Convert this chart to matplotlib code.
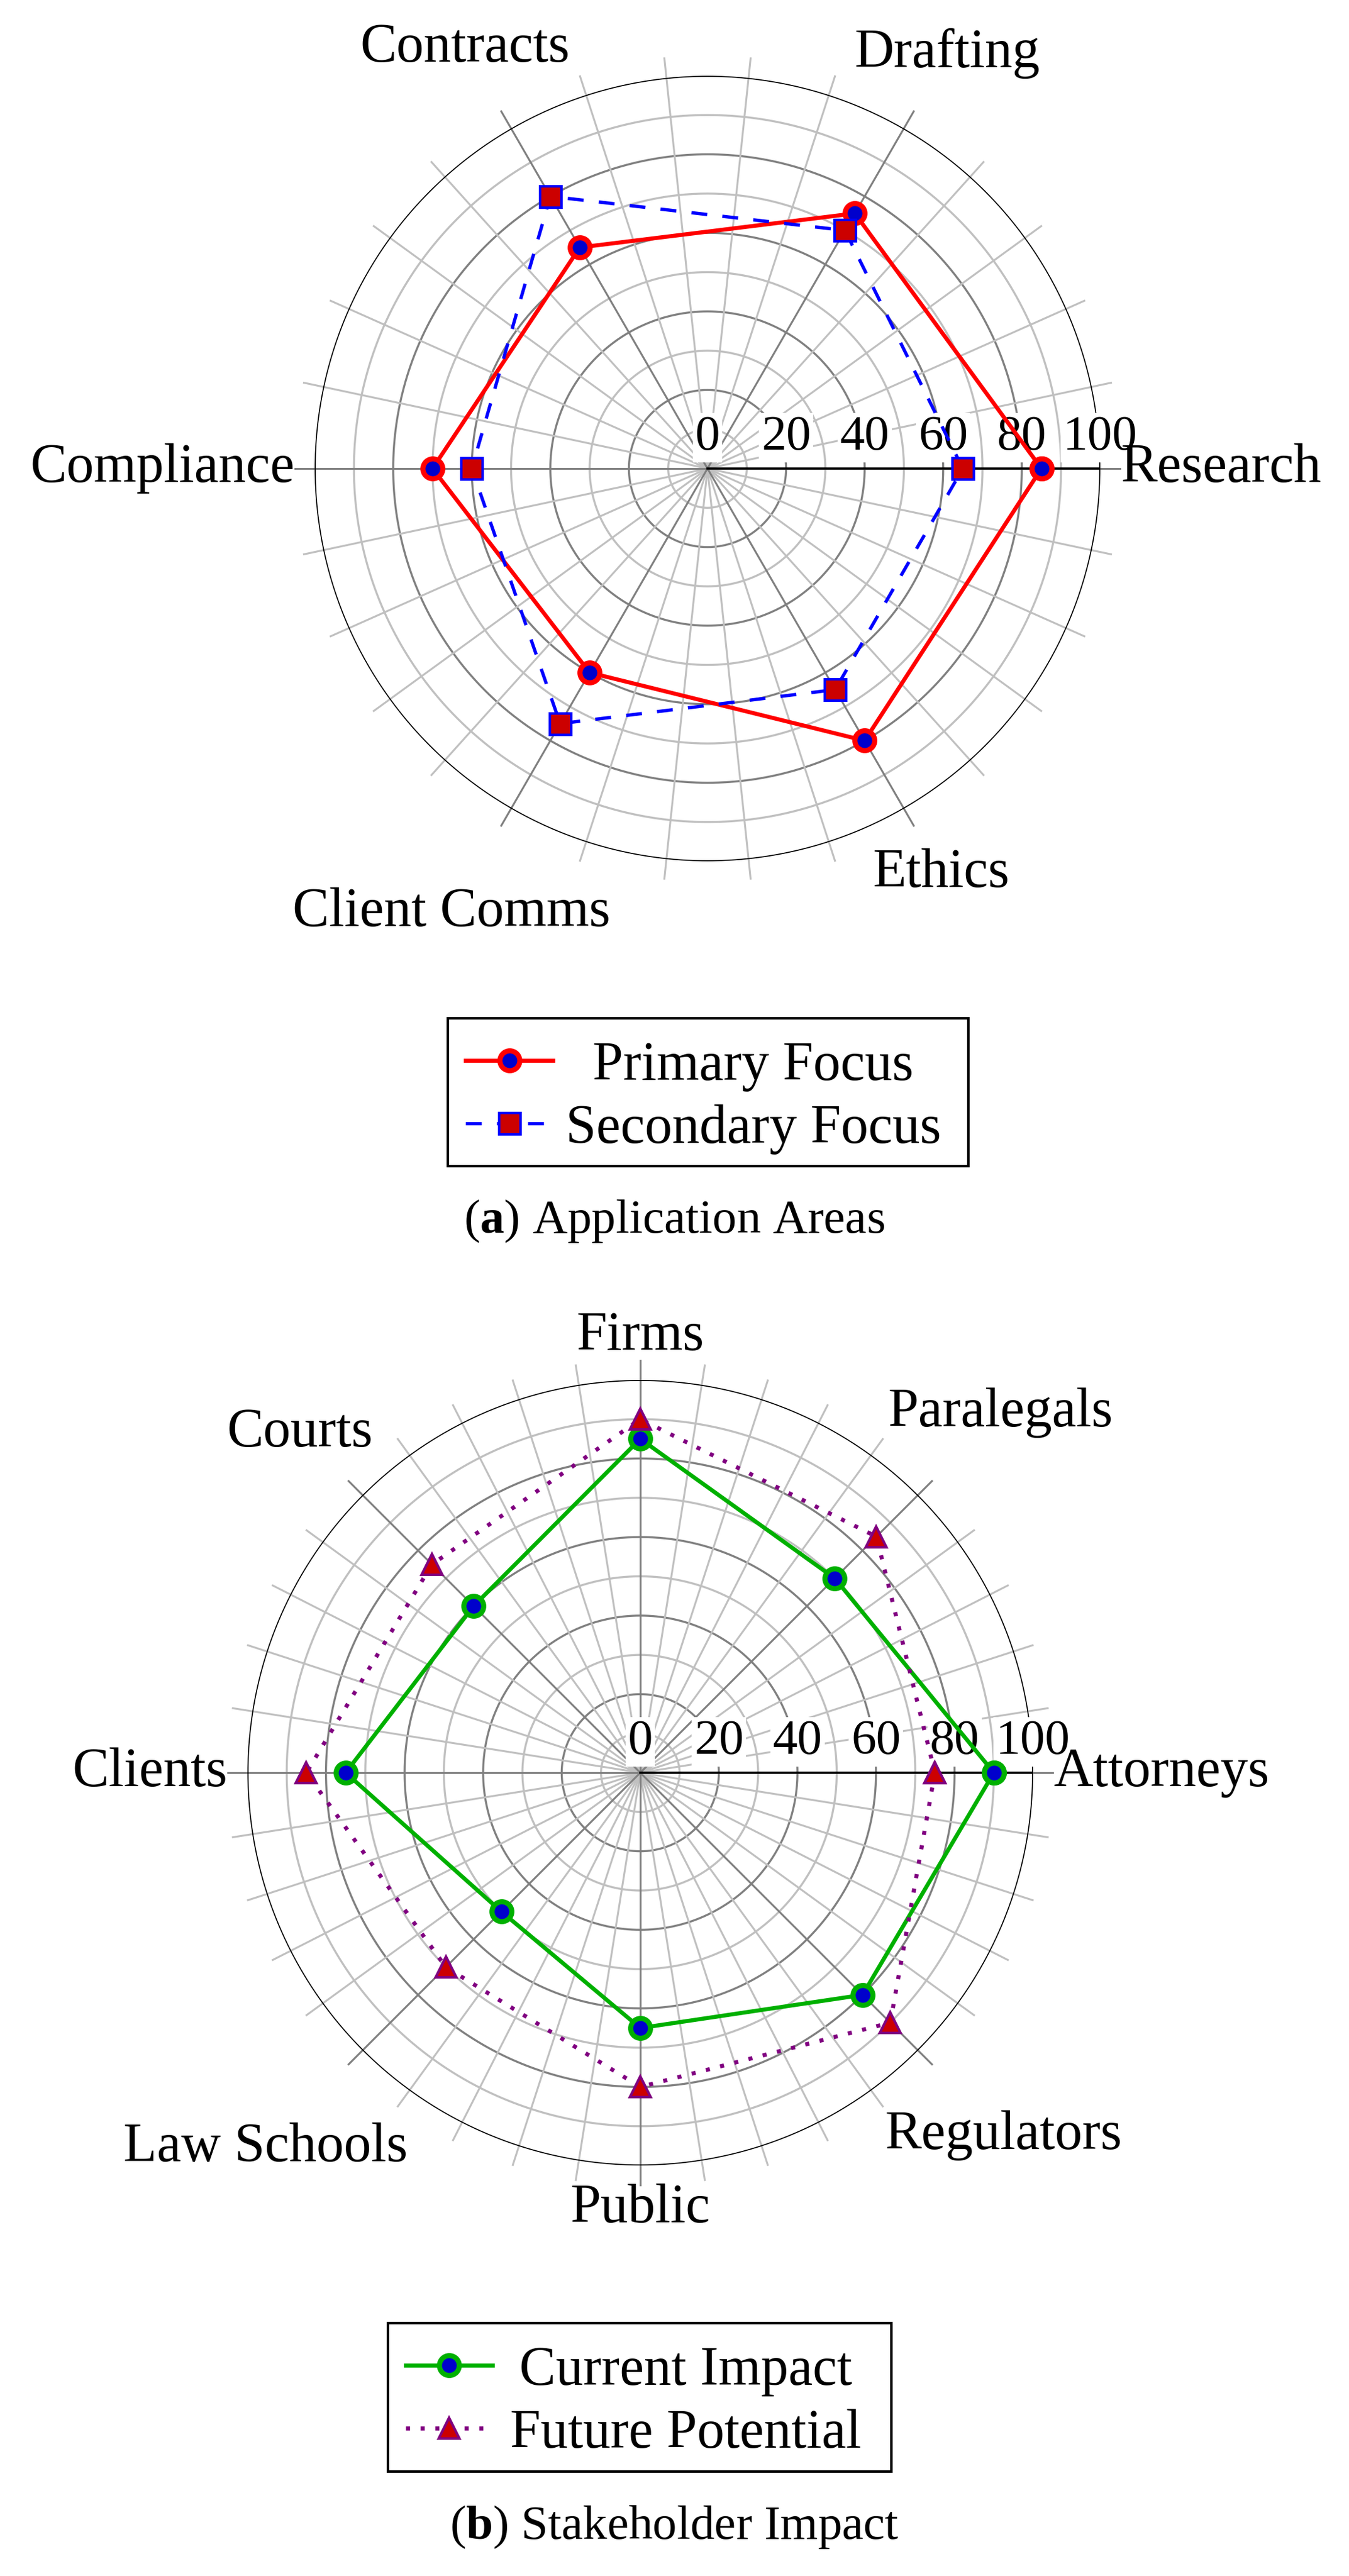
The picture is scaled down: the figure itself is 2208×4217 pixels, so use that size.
import numpy as np
import matplotlib
matplotlib.use("Agg")
import matplotlib.pyplot as plt
from matplotlib.lines import Line2D
from matplotlib.patches import Rectangle
from matplotlib.transforms import offset_copy

plt.rcParams['font.family'] = ['Liberation Serif', 'DejaVu Serif']
plt.rcParams['mathtext.fontset'] = 'custom'
plt.rcParams['mathtext.rm'] = 'Liberation Serif'
plt.rcParams['mathtext.bf'] = 'Liberation Serif:bold'

# chart (a) data
areas = ['Research', 'Drafting', 'Contracts', 'Compliance', 'Client Comms', 'Ethics']
primary = [85, 75, 65, 70, 60, 80]
secondary = [65, 70, 80, 60, 75, 65]

# chart (b) data
stakeholders = ['Attorneys', 'Paralegals', 'Firms', 'Courts', 'Clients',
                'Law Schools', 'Public', 'Regulators']
current = [90, 70, 85, 60, 75, 50, 65, 80]
future = [75, 85, 90, 75, 85, 70, 80, 90]

r_ticks = [0, 20, 40, 60, 80, 100]

W, H, DPI = 2208, 4217, 300
R = 643          # outer radius in pixels
PT = DPI / 72.0  # pixels per point

fig = plt.figure(figsize=(W / DPI, H / DPI), dpi=DPI)
renderer = fig.canvas.get_renderer()

DARK = '#808080'
LIGHT = '#c0c0c0'


def fig_xy(x, y):
    # pixel coords (y from top) -> figure fraction
    return x / W, 1 - y / H


def radar(cx, cy, labels, series):
    ax = fig.add_axes([(cx - R) / W, 1 - (cy + R) / H, 2 * R / W, 2 * R / H],
                      projection='polar')
    ax.set_ylim(0, 100)
    ax.set_xticks([])
    ax.set_yticks([])
    ax.grid(False)
    ax.spines['polar'].set_visible(False)

    n = len(labels)
    step = 360.0 / n
    minor_step = step / 5
    full = np.linspace(0, 2 * np.pi, 721)

    # circles
    for r in range(10, 100, 10):
        c = DARK if r % 20 == 0 else LIGHT
        ax.plot(full, np.full_like(full, r), color=c, lw=0.8, zorder=1)

    # spokes (extend past the rim as tick marks)
    for k in range(n * 5):
        if k % 5 == 0:
            continue
        a = np.deg2rad(k * minor_step)
        ax.plot([a, a], [0, 105], color=LIGHT, lw=0.75, zorder=1, clip_on=False)
    for k in range(n):
        a = np.deg2rad(k * step)
        ax.plot([a, a], [0, 105], color=DARK, lw=0.75, zorder=1.1, clip_on=False)

    ax.plot(full, np.full_like(full, 100), color='black', lw=0.85, zorder=1.5)
    ax.plot([0, 0], [0, 100], color='black', lw=0.85, zorder=1.5)

    # radial tick labels
    tr = offset_copy(ax.transData, fig=fig, x=0, y=31 / PT, units='points')
    for r in r_ticks:
        ax.text(0, r, str(r), transform=tr, ha='center', va='baseline',
                fontsize=19.5, zorder=2,
                bbox=dict(boxstyle='square,pad=0.05', fc='white', ec='none'))

    # series
    theta = np.deg2rad(np.arange(n) * step)
    theta_c = np.append(theta, theta[0])
    for vals, style in series:
        v = np.append(vals, vals[0])
        ax.plot(theta_c, v, zorder=3, clip_on=False, **style)

    # category labels, anchored outside the rim
    for k, lab in enumerate(labels):
        a = np.deg2rad(k * step)
        t = fig.text(0, 0, lab, fontsize=21.5, ha='center', va='center')
        w = t.get_window_extent(renderer).width
        d = R + 33 + (w / 2) * abs(np.cos(a)) + 38 * abs(np.sin(a))
        t.set_position(fig_xy(cx + d * np.cos(a), cy - d * np.sin(a)))
    return ax


def legend(x0, y0, x1, y1, handle_x, text_cx, rows):
    fig.add_artist(Rectangle(fig_xy(x0, y1), (x1 - x0) / W, (y1 - y0) / H,
                             transform=fig.transFigure, fill=False,
                             ec='black', lw=1.0))
    for (label, style), ry in zip(rows, [y0 + 69, y0 + 172]):
        line_style = {k: v for k, v in style.items() if not k.startswith('m')}
        mk_style = {k: v for k, v in style.items()
                    if k.startswith('m') or k == 'color'}
        xa, ya = fig_xy(handle_x[0], ry)
        xb, _ = fig_xy(handle_x[1], ry)
        fig.add_artist(Line2D([xa, xb], [ya, ya], transform=fig.transFigure,
                              **line_style))
        xm, _ = fig_xy((handle_x[0] + handle_x[1]) / 2, ry)
        fig.add_artist(Line2D([xm], [ya], transform=fig.transFigure,
                              linestyle='none', **mk_style))
        tx, ty = fig_xy(text_cx, ry)
        fig.text(tx, ty, label, fontsize=21.5, ha='center', va='center_baseline')


red_style = dict(color='#ff0000', lw=1.6, marker='o', markersize=7.8,
                 markerfacecolor='#0000cc', markeredgecolor='#ff0000',
                 markeredgewidth=2.0)
blue_style = dict(color='#0000ff', lw=1.3, dashes=(4.8, 4.6), marker='s',
                  markersize=8.4, markerfacecolor='#cc0000',
                  markeredgecolor='#0000ff', markeredgewidth=1.0)
green_style = dict(color='#00b000', lw=1.6, marker='o', markersize=7.8,
                   markerfacecolor='#0000cc', markeredgecolor='#00b000',
                   markeredgewidth=2.0)
purple_style = dict(color='#800080', lw=1.6, dashes=(1, 2.6), marker='^',
                    markersize=8.0, markerfacecolor='#cc0000',
                    markeredgecolor='#800080', markeredgewidth=1.0)

radar(1158, 767, areas, [(primary, red_style), (secondary, blue_style)])
legend(733, 1667, 1585, 1909, (762, 905), 1233,
       [('Primary Focus', red_style), ('Secondary Focus', blue_style)])
fig.text(0.5, 1 - 2018 / H, r'($\mathbf{a}$) Application Areas',
         ha='center', va='baseline', fontsize=19)

radar(1048, 2902, stakeholders, [(current, green_style), (future, purple_style)])
legend(635, 3803, 1459, 4046, (664, 806), 1122,
       [('Current Impact', green_style), ('Future Potential', purple_style)])
fig.text(0.5, 1 - 4156 / H, r'($\mathbf{b}$) Stakeholder Impact',
         ha='center', va='baseline', fontsize=19)

fig.savefig('out.png', dpi=DPI, facecolor='white')
